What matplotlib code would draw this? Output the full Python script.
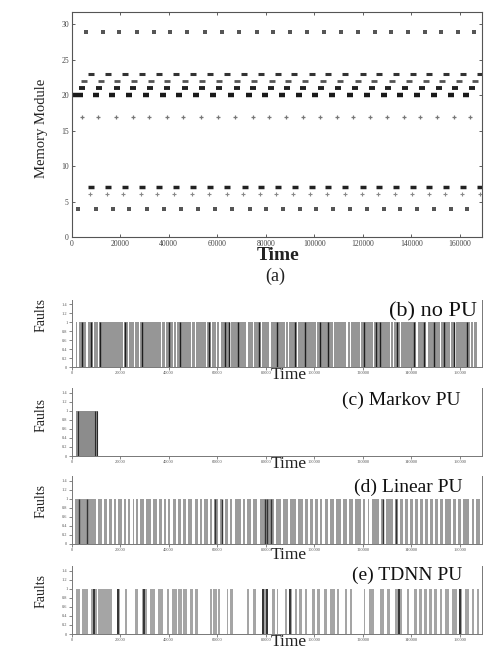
import matplotlib
matplotlib.use("Agg")
import matplotlib.pyplot as plt
import numpy as np

plt.rcParams['font.family'] = ['Liberation Serif', 'DejaVu Serif']

# ---- panel (a): memory module accessed vs time (times in thousands) ----
mem_rows = [29, 23, 22, 21, 20, 17, 7, 6, 4]
row29_t = [5.9, 12.8, 19.7, 26.8, 33.9, 40.5, 47.6, 54.8, 62.0, 69.1, 76.3, 83.1,
           90.1, 97.0, 103.9, 111.0, 117.9, 124.8, 131.7, 138.6, 145.4, 152.3, 159.1, 165.7]
row23_t = [8.2, 15.1, 22.0, 28.9, 36.0, 42.9, 49.9, 57.0, 64.2, 71.1, 78.2, 85.1,
           91.7, 98.9, 105.8, 112.7, 120.0, 126.8, 133.7, 140.6, 147.4, 154.3, 161.2, 168.1]
row22_t = [5.1, 12.0, 18.8, 25.7, 32.6, 39.4, 46.6, 53.6, 60.9, 68.1, 75.2, 82.4,
           89.3, 96.2, 103.5, 110.7, 117.8, 124.7, 131.9, 138.9, 145.8, 152.7, 159.5, 166.3]
row21_t = [4.1, 11.4, 18.6, 25.4, 32.3, 39.4, 46.6, 53.7, 60.9, 68.1, 74.9, 82.1,
           88.6, 95.3, 102.7, 109.9, 116.8, 123.7, 130.5, 137.4, 144.3, 151.2, 158.1, 165.0]
row20_t = [0.9, 3.3, 10.0, 16.7, 23.7, 30.6, 37.5, 44.4, 51.3, 58.4, 65.6, 72.9, 79.7,
           86.6, 93.5, 100.3, 107.2, 114.5, 121.7, 128.5, 135.4, 142.3, 149.2, 156.1, 162.6]
row17_t = [4.1, 11.0, 18.3, 25.2, 32.0, 39.2, 46.0, 53.2, 60.5, 67.4, 74.6, 81.5,
           88.4, 95.3, 102.4, 109.3, 116.1, 123.0, 129.9, 136.8, 143.6, 150.5, 157.4, 164.0]
row7_t = [8.2, 15.1, 22.0, 28.9, 36.0, 42.9, 49.9, 57.0, 64.2, 71.3, 78.2, 85.1,
          91.9, 98.9, 105.8, 112.7, 120.0, 126.8, 133.7, 140.6, 147.4, 154.3, 161.2, 168.1]
row6_t = [7.5, 14.4, 21.3, 28.4, 35.3, 42.2, 49.5, 56.7, 63.9, 70.7, 77.6, 84.3,
          91.4, 98.3, 105.4, 112.7, 119.6, 126.4, 133.3, 140.2, 147.1, 154.0, 160.9, 168.1]
row4_t = [2.7, 10.0, 16.9, 23.8, 30.9, 38.1, 45.0, 52.2, 59.1, 66.0, 73.3, 80.1,
          87.0, 93.9, 100.8, 107.7, 114.5, 121.7, 128.5, 135.4, 142.3, 149.2, 156.1, 162.9]
row_times = [row29_t, row23_t, row22_t, row21_t, row20_t, row17_t, row7_t, row6_t, row4_t]

# ---- panels (b)-(e): fault occurrence (times in thousands) ----
b_span = (2.0, 167.0)
b_gaps = [2.7, 6.4, 9.1, 11.1, 21.3, 23.4, 25.8, 27.9, 37.1, 38.8, 41.9, 43.3, 49.5,
          51.0, 55.7, 57.7, 59.8, 61.2, 65.6, 72.2, 74.9, 78.3, 81.8, 88.0, 89.4, 93.0,
          101.0, 107.9, 113.4, 114.8, 118.9, 124.4, 131.3, 132.7, 135.4, 142.3, 146.4,
          151.9, 156.1, 158.1, 164.3, 165.7]
b_dark = [4.5, 7.8, 11.9, 22.0, 28.9, 40.0, 44.7, 56.5, 63.2, 64.7, 68.7, 77.4, 84.5,
          92.1, 96.2, 102.4, 105.8, 120.3, 125.2, 127.2, 134.1, 140.9, 145.1, 149.2,
          153.3, 157.4, 162.9]

c_span = (2.0, 10.9)
c_dark = [2.6, 9.6, 10.6]

d_span = (1.4, 168.4)
d_gaps = [10.6, 13.0, 15.1, 17.0, 18.6, 21.3, 23.0, 24.7, 26.2, 27.8, 30.2, 33.0, 35.5,
          37.5, 39.2, 41.2, 43.3, 45.5, 47.4, 50.2, 52.4, 54.3, 56.5, 58.4, 60.6, 62.6,
          64.8, 66.7, 70.1, 72.0, 74.2, 77.0, 83.9, 86.6, 89.4, 92.8, 95.6, 97.8, 99.7,
          101.8, 103.8, 106.0, 108.6, 111.4, 114.0, 116.2, 119.6, 121.5, 123.1, 127.2,
          129.2, 132.7, 134.8, 136.8, 138.9, 140.9, 143.0, 145.1, 147.2, 149.2, 151.5,
          153.3, 156.7, 158.9, 160.9, 164.3, 166.3]
d_dark = [3.0, 6.5, 59.0, 62.0, 79.6, 80.6, 82.2, 128.3, 133.5]

e_start = [2.0, 4.1, 8.2, 11.0, 18.6, 22.0, 26.1, 28.9, 32.3, 35.7, 39.2, 41.2, 44.0,
           46.1, 48.8, 50.9, 57.0, 58.4, 60.5, 63.9, 65.3, 72.2, 74.9, 78.4, 82.5, 84.6,
           88.0, 89.4, 92.1, 93.5, 96.2, 99.0, 101.1, 103.8, 106.6, 109.3, 112.7, 114.8,
           120.3, 122.4, 127.2, 129.9, 133.4, 138.2, 140.9, 143.0, 145.1, 147.1, 149.2,
           151.9, 154.0, 156.7, 159.5, 162.2, 165.0, 167.0]
e_end = [3.4, 6.9, 10.3, 16.5, 19.9, 22.7, 27.5, 30.9, 34.4, 37.8, 40.1, 43.3, 45.4,
         47.4, 50.2, 52.2, 57.7, 59.8, 61.2, 64.6, 66.3, 72.9, 75.9, 81.1, 83.9, 85.2,
         88.7, 90.7, 92.8, 94.9, 96.9, 100.4, 102.4, 105.2, 108.6, 110.0, 113.4, 115.5,
         121.0, 124.4, 128.6, 131.3, 136.1, 138.9, 142.3, 144.4, 146.4, 148.5, 150.6,
         152.6, 155.4, 158.8, 160.9, 163.6, 165.7, 167.7]
e_dark = [9.3, 19.3, 29.9, 79.0, 80.4, 90.0, 134.9, 160.2]

x_ticks = [0, 20000, 40000, 60000, 80000, 100000, 120000, 140000, 160000]
mem_ticks = [0, 5, 10, 15, 20, 25, 30]
fault_ticks = [0, 0.2, 0.4, 0.6, 0.8, 1, 1.2, 1.4]
panel_titles = ['(b) no PU', '(c) Markov PU', '(d) Linear PU', '(e) TDNN PU']

K = 1000.0
XMAX = 169200

fig = plt.figure(figsize=(5.04, 6.51), dpi=100)

# ---------------- panel (a) ----------------
ax = fig.add_axes([0.142, 0.636, 0.815, 0.346])
styles = [
    dict(marker='s', ms=3.0, mew=0, color='#555555'),
    dict(marker='_', ms=4.5, mew=2.2, color='#333333'),
    dict(marker='_', ms=4.5, mew=2.0, color='#555555'),
    dict(marker='_', ms=5, mew=2.8, color='#222222'),
    dict(marker='_', ms=5, mew=3.2, color='#1a1a1a'),
    dict(marker='+', ms=3.5, mew=0.9, color='#777777'),
    dict(marker='_', ms=4.5, mew=2.5, color='#222222'),
    dict(marker='+', ms=3.5, mew=0.8, color='#888888'),
    dict(marker='s', ms=3.0, mew=0, color='#555555'),
]
for row, ts, st in zip(mem_rows, row_times, styles):
    t = np.array(ts) * K
    ax.plot(t, np.full(len(t), row), ls='none', **st)
ax.set_xlim(0, XMAX)
ax.set_ylim(0, 31.8)
ax.set_xticks(x_ticks)
ax.set_yticks(mem_ticks)
ax.set_xticklabels([str(v) for v in x_ticks])
ax.tick_params(direction='in', top=True, right=True, length=2.5, width=0.6,
               labelsize=5.5, pad=2, colors='#444444')
for s in ax.spines.values():
    s.set_linewidth(0.8)
    s.set_color('#555555')

fig.text(278 / 504, 1 - 256 / 651, 'Time', ha='center', va='center',
         fontsize=14, fontweight='bold', color='#222222')
fig.text(275 / 504, 1 - 276 / 651, '(a)', ha='center', va='center',
         fontsize=13, color='#222222')
fig.text(42 / 504, 1 - 128 / 651, 'Memory Module', ha='center', va='center',
         rotation=90, fontsize=10.5, color='#222222')

# ---------------- panels (b)-(e) ----------------
bottoms = [0.4358, 0.2995, 0.1644, 0.0261]
title_pos = [(0.987, 1.22, 16), (0.946, 1.23, 14), (0.951, 1.26, 14), (0.951, 1.30, 14)]
faults_y = [315, 415, 501, 591]
time_pos = [(289, 375), (289, 464), (289, 555), (289, 642)]

axes = []
for i in range(4):
    a = fig.add_axes([0.142, bottoms[i], 0.815, 0.104])
    a.set_xlim(0, XMAX)
    a.set_ylim(0, 1.5)
    a.set_xticks(x_ticks)
    a.set_xticklabels([str(v) for v in x_ticks])
    a.set_yticks(fault_ticks)
    a.set_yticklabels([('%g' % v) for v in fault_ticks])
    a.tick_params(direction='out', length=2, width=0.5, labelsize=3.2, pad=1,
                  colors='#555555')
    a.spines['top'].set_visible(False)
    for s in ['left', 'right', 'bottom']:
        a.spines[s].set_linewidth(0.7)
        a.spines[s].set_color('#777777')
    tx, ty, fs = title_pos[i]
    a.text(tx, ty, panel_titles[i], transform=a.get_yaxis_transform(),
           ha='right', va='center', fontsize=fs, color='#111111')
    fig.text(41 / 504, 1 - faults_y[i] / 651, 'Faults', ha='center', va='center',
             rotation=90, fontsize=10, color='#222222')
    fig.text(time_pos[i][0] / 504, 1 - time_pos[i][1] / 651, 'Time', ha='center',
             va='center', fontsize=12.5, color='#222222')
    axes.append(a)

# (b) no PU
a = axes[0]
a.bar(b_span[0] * K, 1, width=(b_span[1] - b_span[0]) * K, align='edge',
      color='#969696', lw=0)
gw = 0.55 * K
a.bar(np.array(b_gaps) * K - gw / 2, 1, width=gw, align='edge', color='white', lw=0)
a.vlines(np.array(b_dark) * K, 0, 1, color='#1e1e1e', lw=1.0)

# (c) Markov PU
a = axes[1]
a.bar(c_span[0] * K, 1, width=(c_span[1] - c_span[0]) * K, align='edge',
      color='#8c8c8c', lw=0)
a.vlines(np.array(c_dark) * K, 0, 1, color='#2a2a2a', lw=0.8)

# (d) Linear PU
a = axes[2]
a.bar(d_span[0] * K, 1, width=(d_span[1] - d_span[0]) * K, align='edge',
      color='#9c9c9c', lw=0)
gw = 0.9 * K
a.bar(np.array(d_gaps) * K - gw / 2, 1, width=gw, align='edge', color='white', lw=0)
a.vlines(np.array(d_dark) * K, 0, 1, color='#333333', lw=1.0)

# (e) TDNN PU
a = axes[3]
es = np.array(e_start) * K
ee = np.array(e_end) * K
a.bar(es, 1, width=ee - es, align='edge', color='#a5a5a5', lw=0)
a.vlines(np.array(e_dark) * K, 0, 1, color='#222222', lw=1.2)

fig.savefig('out.png', dpi=100, facecolor='white')
